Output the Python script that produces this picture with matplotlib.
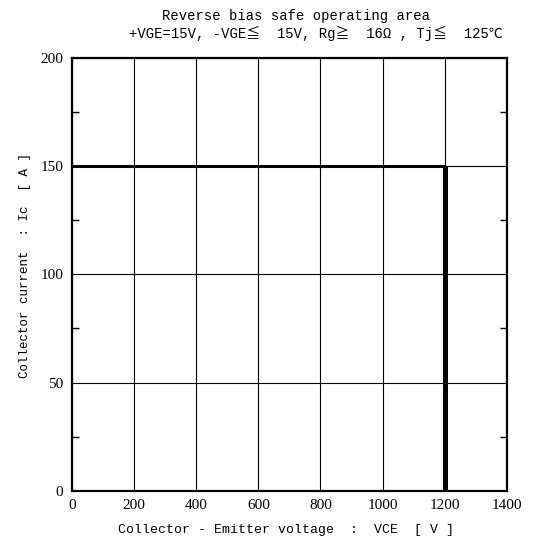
import matplotlib
matplotlib.use("Agg")
from matplotlib import pyplot as plt
from matplotlib.ticker import MultipleLocator

# RBSOA boundary (VCE [V], Ic [A])
vce_limit = [0, 1200, 1200]
ic_limit = [150, 150, 0]

x_ticks = [0, 200, 400, 600, 800, 1000, 1200, 1400]
y_ticks = [0, 50, 100, 150, 200]

title_1 = "Reverse bias safe operating area"
title_2 = "+VGE=15V, -VGE\u2266  15V, Rg\u2267  16\u03a9 , Tj\u2266  125\u2103"
x_label = "Collector - Emitter voltage  :  VCE  [ V ]"
y_label = "Collector current  : Ic  [ A ]"

mono = ["Liberation Mono", "Noto Sans CJK JP", "DejaVu Sans"]
narrow = ["Liberation Sans Narrow", "Liberation Serif", "DejaVu Serif"]

fig = plt.figure(figsize=(5.44, 5.40), dpi=100)
ax = fig.add_axes([0.132, 0.091, 0.800, 0.802])

ax.set_xlim(0, 1400)
ax.set_ylim(0, 200)
ax.set_xticks(x_ticks)
ax.set_yticks(y_ticks)
ax.yaxis.set_minor_locator(MultipleLocator(25))
ax.grid(True, which="major", color="black", linewidth=0.8)

ax.tick_params(which="major", length=0, pad=6, labelsize=11)
ax.tick_params(which="minor", direction="in", length=5, width=1,
               left=True, right=True)
for lab in ax.get_xticklabels() + ax.get_yticklabels():
	lab.set_family(narrow)
for sp in ax.spines.values():
	sp.set_linewidth(1.6)

# thick SOA boundary: horizontal part thinner than the vertical one
ax.plot(vce_limit[:2], ic_limit[:2], color="black", linewidth=2.2,
        solid_capstyle="butt")
ax.plot(vce_limit[1:], ic_limit[1:], color="black", linewidth=3.6,
        solid_capstyle="butt")

fig.text(0.545, 0.970, title_1, ha="center", va="center", fontsize=10,
         family=mono)
fig.text(0.580, 0.938, title_2, ha="center", va="center", fontsize=10,
         family=mono)
fig.text(0.526, 0.018, x_label, ha="center", va="center", fontsize=9.5,
         family=mono)
fig.text(0.046, 0.509, y_label, ha="center", va="center", fontsize=9,
         rotation=90, family=mono)

fig.savefig("out.png", dpi=100)
